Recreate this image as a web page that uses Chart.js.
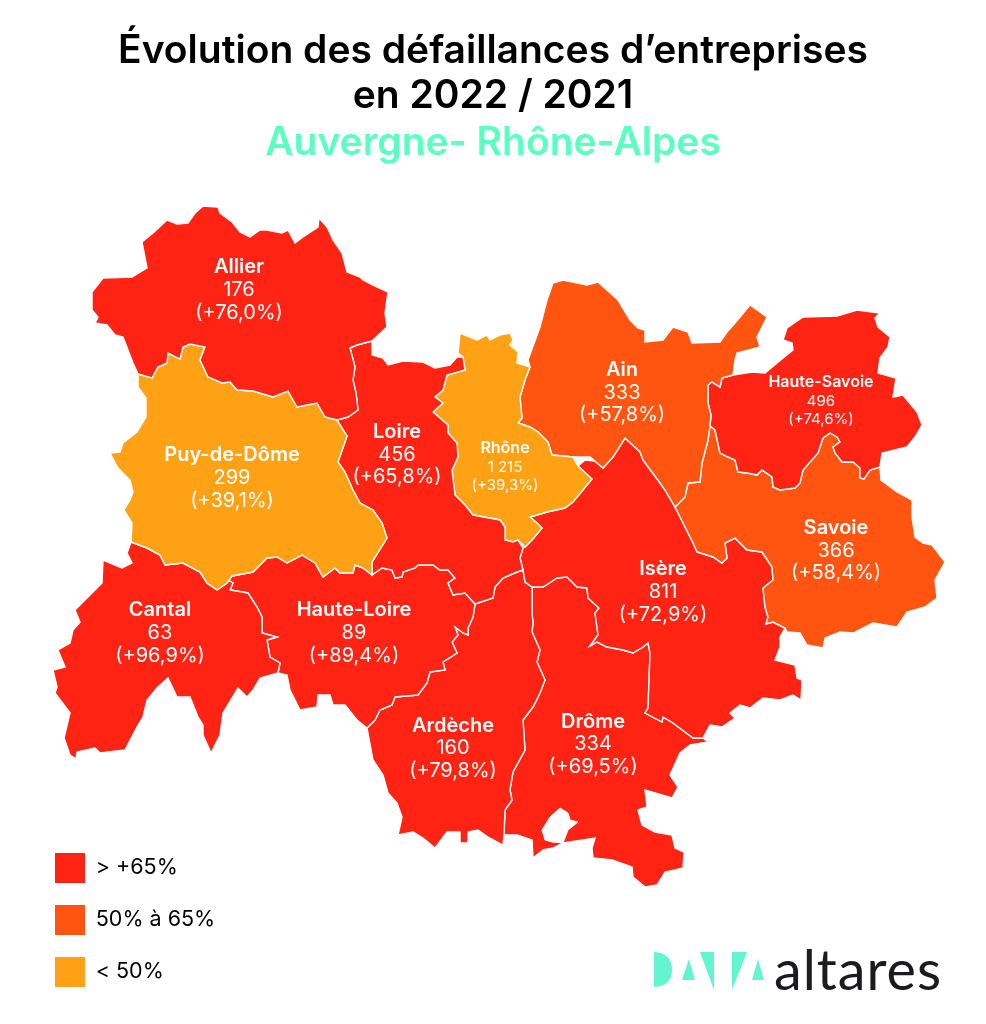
<!DOCTYPE html>
<html lang="fr">
<head>
<meta charset="utf-8">
<title>Évolution des défaillances d’entreprises</title>
<script src="https://cdn.jsdelivr.net/npm/chart.js@4"></script>
<style>
  html, body { margin: 0; padding: 0; background: #fff; }
  canvas { display: block; }
</style>
</head>
<body>
<canvas id="map" width="986" height="1024"></canvas>
<script>
// chart values
const titleLines = ['Évolution des défaillances d’entreprises', 'en 2022 / 2021'];
const subtitleText = 'Auvergne- Rhône-Alpes';
const departments = ['Allier', 'Puy-de-Dôme', 'Loire', 'Rhône', 'Ain', 'Haute-Savoie', 'Savoie', 'Isère', 'Cantal', 'Haute-Loire', 'Ardèche', 'Drôme'];
const failures = [176, 299, 456, 1215, 333, 496, 366, 811, 63, 89, 160, 334];
const changes = [76.0, 39.1, 65.8, 39.3, 57.8, 74.6, 58.4, 72.9, 96.9, 89.4, 79.8, 69.5];
const legendLabels = ['> +65%', '50% à 65%', '< 50%'];

// shared borders, in map units
const allierOuter = [[372,341],[387,327],[385,313],[388,292],[373,285],[363,280],[360,277],[347,272],[342,253],[333,240],[327,227],[319,218],[318,227],[303,237],[295,243],[288,230],[282,233],[267,230],[260,230],[250,237],[240,232],[232,222],[220,213],[218,207],[203,206],[195,213],[188,223],[177,224],[167,220],[153,233],[142,242],[147,268],[132,277],[103,278],[92,292],[92,310],[98,317],[95,323],[107,325],[115,335],[123,337],[133,363],[138,374]];
const allierPuy = [[138,374],[152,378],[158,367],[167,363],[168,353],[180,359],[183,347],[190,344],[205,347],[200,360],[208,377],[222,383],[230,382],[237,390],[253,391],[273,397],[288,391],[297,407],[317,403],[325,417],[337,420]];
const allierLoire = [[337,420],[348,417],[358,410],[356,393],[353,380],[355,367],[350,348],[357,345],[372,341]];
const puyOuter = [[138,374],[138,387],[146,398],[146,417],[137,432],[123,443],[120,452],[110,453],[118,468],[130,480],[133,492],[130,500],[124,510],[132,523],[131,542]];
const puyCantal = [[131,542],[147,548],[160,555],[165,565],[183,563],[200,572],[207,583],[217,590],[227,583],[232,576]];
const puyHauteLoire = [[232,576],[253,572],[267,558],[277,557],[287,563],[302,555],[315,563],[323,577],[335,568],[340,573],[353,573],[355,565],[363,568],[372,575]];
const puyLoire = [[337,420],[347,436],[338,462],[345,472],[353,490],[360,503],[373,510],[382,523],[387,538],[372,562],[372,575]];
const loireHauteLoire = [[372,575],[382,568],[392,570],[395,578],[402,577],[403,572],[415,568],[418,565],[433,565],[440,570],[448,570],[455,578],[448,583],[453,595],[465,593],[475,604]];
const loireArdeche = [[475,604],[493,598],[495,587],[503,578],[517,572],[523,570]];
const loireIsere = [[523,570],[520,558],[523,548],[518,540]];
const rhoneLoire = [[518,540],[513,542],[505,540],[505,527],[500,520],[473,515],[465,505],[455,495],[452,470],[458,457],[457,443],[448,433],[448,425],[433,412],[443,403],[435,397],[443,390],[447,375],[465,370],[463,357]];
const loireOuter = [[463,357],[457,357],[450,365],[435,368],[423,362],[403,361],[388,365],[383,358],[372,355],[372,341]];
const rhoneOuter = [[463,357],[458,353],[460,333],[477,340],[487,335],[490,340],[500,335],[510,333],[513,340],[510,345],[518,352],[517,363],[530,367]];
const rhoneAin = [[530,367],[525,380],[520,397],[522,418],[518,423],[530,427],[538,432],[548,442],[552,455],[573,457]];
const rhoneNotch = [[573,457],[578,466],[592,479]];
const rhoneIsere = [[592,479],[573,502],[565,508],[547,512],[537,515],[530,517],[537,523],[542,528],[532,540],[525,547],[518,540]];
const isereNotch = [[578,466],[585,460],[595,461]];
const ainOuter = [[733,375],[735,360],[737,353],[760,347],[757,337],[767,317],[750,305],[735,323],[727,332],[720,342],[692,343],[688,332],[673,327],[663,340],[645,342],[645,330],[638,328],[630,320],[618,300],[598,282],[587,285],[563,280],[553,283],[547,300],[540,327],[528,360],[530,367]];
const ainNotch = [[573,457],[590,457],[603,468]];
const ainIsere = [[603,468],[613,457],[625,438],[640,452],[643,460],[660,483],[665,490],[675,507]];
const ainSavoie = [[675,507],[685,497],[688,483],[700,482],[702,463],[708,440],[710,426]];
const ainHauteSavoie = [[710,426],[711,415],[708,403],[708,385],[712,382],[720,387],[722,378],[733,375]];
const hauteSavoieOuter = [[733,375],[752,372],[765,373],[777,363],[793,350],[792,343],[783,340],[787,328],[803,317],[837,316],[857,310],[880,313],[875,318],[878,327],[890,337],[888,347],[880,358],[878,373],[896,378],[893,397],[903,395],[917,412],[922,425],[915,437],[907,447],[882,453],[880,467]];
const hauteSavoieSavoie = [[880,467],[870,470],[864,479],[860,478],[860,468],[853,462],[842,462],[835,453],[833,447],[840,442],[837,437],[830,433],[823,438],[818,453],[803,470],[800,483],[795,488],[780,490],[773,487],[772,477],[762,470],[757,475],[747,473],[738,472],[735,460],[728,457],[720,453],[715,430],[710,426]];
const savoieOuter = [[880,467],[881,480],[897,492],[912,500],[912,517],[915,537],[923,543],[932,545],[945,562],[935,580],[937,598],[925,607],[907,612],[897,627],[873,623],[853,633],[840,632],[825,638],[823,648],[807,645],[800,633],[787,632],[785,628]];
const isereSavoie = [[675,507],[683,523],[693,543],[697,552],[713,557],[722,563],[727,558],[725,543],[735,538],[747,550],[762,552],[772,567],[773,580],[763,588],[765,607],[768,617],[766,624],[773,622],[785,628]];
const isereOuter = [[785,628],[780,637],[780,647],[775,660],[795,665],[797,678],[802,680],[801,700],[793,695],[780,700],[763,698],[750,708],[740,705],[730,713],[735,718],[722,727],[710,725],[703,738]];
const isereDrome = [[703,738],[693,738],[673,723],[663,717],[662,722],[645,713],[648,708],[650,653],[648,643],[643,647],[633,653],[623,650],[607,647],[597,642],[590,646],[598,635],[595,613],[599,608],[588,598],[587,588],[577,587],[567,577],[557,578],[543,587],[532,587]];
const ardecheIsere = [[523,570],[525,582],[532,587]];
const ardecheDrome = [[532,587],[532,613],[533,623],[532,632],[540,650],[537,662],[545,680],[540,693],[533,707],[523,720],[525,750],[513,772],[510,790],[512,800],[505,810],[504,835]];
const ardecheOuter = [[504,835],[503,845],[488,837],[478,830],[468,832],[468,843],[460,843],[460,832],[447,832],[435,848],[423,838],[413,832],[398,835],[402,817],[397,803],[388,793],[383,775],[373,760],[367,728]];
const hauteLoireArdeche = [[475,604],[473,617],[468,628],[468,635],[463,633],[455,627],[458,635],[452,642],[457,653],[443,662],[445,670],[430,672],[427,683],[418,695],[395,697],[392,705],[380,710],[375,720],[367,728]];
const hauteLoireOuter = [[278,673],[287,675],[290,690],[300,710],[317,707],[318,695],[330,695],[333,705],[345,705],[357,720],[367,728]];
const cantalHauteLoire = [[232,576],[228,580],[233,583],[230,590],[248,593],[257,607],[262,617],[262,633],[277,637],[267,640],[270,657],[280,663],[278,673]];
const cantalOuter = [[278,673],[260,678],[253,690],[247,697],[238,688],[232,698],[223,713],[220,735],[211,753],[203,735],[203,725],[198,717],[190,697],[177,697],[168,678],[157,688],[147,700],[143,717],[137,727],[125,750],[100,753],[95,748],[77,752],[76,759],[70,755],[64,738],[70,713],[55,693],[57,687],[53,670],[65,667],[58,650],[70,643],[73,630],[80,622],[75,610],[102,583],[103,560],[122,568],[132,563],[127,553],[131,542]];
const dromeOuter = [[504,835],[517,835],[532,840],[533,858],[543,850],[553,848],[563,843],[595,838],[592,848],[593,858],[612,860],[632,867],[633,877],[645,887],[657,885],[665,872],[675,870],[683,868],[684,852],[675,848],[672,835],[655,832],[642,825],[638,810],[647,807],[645,790],[672,798],[678,787],[670,775],[680,753],[690,745],[708,742],[703,738]];
const dromeEnclave = [[560,808],[568,813],[570,820],[578,822],[568,830],[563,843],[552,842],[545,840],[542,830],[550,817],[560,808]];

const rev = border => border.slice().reverse();
const outlines = [
  [allierOuter, allierPuy, allierLoire],
  [puyOuter, puyCantal, puyHauteLoire, rev(puyLoire), rev(allierPuy)],
  [rev(allierLoire), puyLoire, loireHauteLoire, loireArdeche, loireIsere, rhoneLoire, loireOuter],
  [rhoneOuter, rhoneAin, rhoneNotch, rhoneIsere, rhoneLoire],
  [ainOuter, rhoneAin, ainNotch, ainIsere, ainSavoie, ainHauteSavoie],
  [hauteSavoieOuter, hauteSavoieSavoie, ainHauteSavoie],
  [rev(hauteSavoieSavoie), savoieOuter, rev(isereSavoie), ainSavoie],
  [rev(rhoneIsere), isereNotch, ainIsere, isereSavoie, isereOuter, isereDrome, rev(ardecheIsere), loireIsere],
  [puyCantal, cantalHauteLoire, cantalOuter],
  [rev(puyHauteLoire), cantalHauteLoire, hauteLoireOuter, rev(hauteLoireArdeche), rev(loireHauteLoire)],
  [rev(loireArdeche), hauteLoireArdeche, rev(ardecheOuter), rev(ardecheDrome), rev(ardecheIsere)],
  [ardecheDrome, dromeOuter, isereDrome]
];

// label placement: centre x, then the centre y of each of the three lines
const labelSpots = [
  [239, 267, 290, 313], [232, 455, 478, 501], [397, 432, 455, 477], [505, 448, 467, 485],
  [622, 370, 393, 415], [821, 382, 401, 419], [836, 528, 551, 573], [663, 569, 592, 615],
  [160, 610, 633, 656], [354, 610, 633, 656], [453, 726, 748, 771], [593, 722, 744, 767]
];
const smallLabels = ['Rhône', 'Haute-Savoie'];

const RED = '#FF2314';
const ORANGE = '#FF5510';
const AMBER = '#FFA114';
const TEAL = '#5BFFBF';
const LOGO_TEAL = '#63F5CF';
const FONT = 'Inter, "Noto Sans", sans-serif';

function classColour(change) {
  if (change > 65) return RED;
  if (change >= 50) return ORANGE;
  return AMBER;
}

function toPoints(parts) {
  return parts.flat().map(p => ({ x: p[0], y: p[1] }));
}

function formatCount(n) {
  return String(n).replace(/\B(?=(\d{3})+$)/g, ' ');
}

function formatChange(v) {
  return '(+' + v.toFixed(1).replace('.', ',') + '%)';
}

const datasets = departments.map((name, i) => ({
  label: name,
  data: toPoints(outlines[i]),
  showLine: true,
  fill: 'shape',
  tension: 0,
  backgroundColor: classColour(changes[i]),
  borderColor: '#fff',
  borderWidth: 1.4,
  pointRadius: 0
}));
// lower order draws on top, so the hole stays above Drôme
datasets.push({
  label: 'Enclave',
  data: toPoints([dromeEnclave]),
  order: -1,
  showLine: true,
  fill: 'shape',
  backgroundColor: '#fff',
  borderColor: '#fff',
  borderWidth: 1,
  pointRadius: 0
});

// department labels, anchored through the scales
const mapLabels = {
  id: 'mapLabels',
  afterDatasetsDraw(chart) {
    const { ctx, scales } = chart;
    ctx.save();
    ctx.fillStyle = '#fff';
    ctx.textAlign = 'center';
    ctx.textBaseline = 'middle';
    departments.forEach((name, i) => {
      const spot = labelSpots[i];
      const small = smallLabels.includes(name);
      const x = scales.x.getPixelForValue(spot[0]);
      ctx.font = '600 ' + (small ? 16 : 20) + 'px ' + FONT;
      ctx.fillText(name, x, scales.y.getPixelForValue(spot[1]));
      ctx.font = '400 ' + (small ? 15 : 20) + 'px ' + FONT;
      ctx.fillText(formatCount(failures[i]), x, scales.y.getPixelForValue(spot[2]));
      ctx.fillText(formatChange(changes[i]), x, scales.y.getPixelForValue(spot[3]));
    });
    ctx.restore();
  }
};

// legend sits in the chart area, only its corner has to move down to the page bottom
const legendPlacement = {
  id: 'legendPlacement',
  afterLayout(chart) {
    chart.legend.left = 33;
    chart.legend.bottom = 1009;
  }
};

// the DATA altares mark at the bottom right
const logo = {
  id: 'logo',
  afterDraw(chart) {
    const ctx = chart.ctx;
    ctx.save();
    ctx.fillStyle = LOGO_TEAL;
    ctx.beginPath();
    ctx.moveTo(654, 952);
    ctx.quadraticCurveTo(672, 953, 672, 970);
    ctx.quadraticCurveTo(672, 986, 654, 987);
    ctx.closePath();
    ctx.fill();
    [[[682,980],[695,980],[689,959]], [[700,952],[714,952],[714,990]], [[732,952],[747,952],[732,990]], [[752,980],[764,980],[758,959]]].forEach(tri => {
      ctx.beginPath();
      ctx.moveTo(tri[0][0], tri[0][1]);
      ctx.lineTo(tri[1][0], tri[1][1]);
      ctx.lineTo(tri[2][0], tri[2][1]);
      ctx.closePath();
      ctx.fill();
    });
    ctx.fillStyle = '#1b1b1f';
    ctx.font = '400 57px Lato, ' + FONT;
    ctx.letterSpacing = '1px';
    ctx.textAlign = 'left';
    ctx.textBaseline = 'alphabetic';
    ctx.fillText('altares', 774, 990, 168);
    ctx.restore();
  }
};

new Chart(document.getElementById('map'), {
  type: 'scatter',
  data: { datasets: datasets },
  plugins: [mapLabels, legendPlacement, logo],
  options: {
    responsive: false,
    animation: false,
    events: [],
    devicePixelRatio: 1,
    scales: {
      x: { type: 'linear', min: 0, max: 986, display: false },
      y: { type: 'linear', min: 166, max: 1024, reverse: true, display: false }
    },
    plugins: {
      tooltip: { enabled: false },
      title: {
        display: true,
        text: titleLines,
        color: '#000',
        font: { family: FONT, size: 39, weight: '600', lineHeight: 1.154 },
        padding: { top: 29, bottom: 0 }
      },
      subtitle: {
        display: true,
        text: subtitleText,
        color: TEAL,
        font: { family: FONT, size: 39, weight: '600', lineHeight: 1.154 },
        padding: { top: 2, bottom: 0 }
      },
      legend: {
        display: true,
        position: 'chartArea',
        align: 'end',
        labels: {
          boxWidth: 30,
          boxHeight: 30,
          padding: 22,
          color: '#222',
          font: { family: FONT, size: 21.5, weight: '400' },
          generateLabels: () => legendLabels.map((text, i) => ({
            text: text,
            fillStyle: [RED, ORANGE, AMBER][i],
            strokeStyle: 'transparent',
            lineWidth: 0,
            hidden: false
          }))
        }
      }
    }
  }
});
</script>
</body>
</html>
